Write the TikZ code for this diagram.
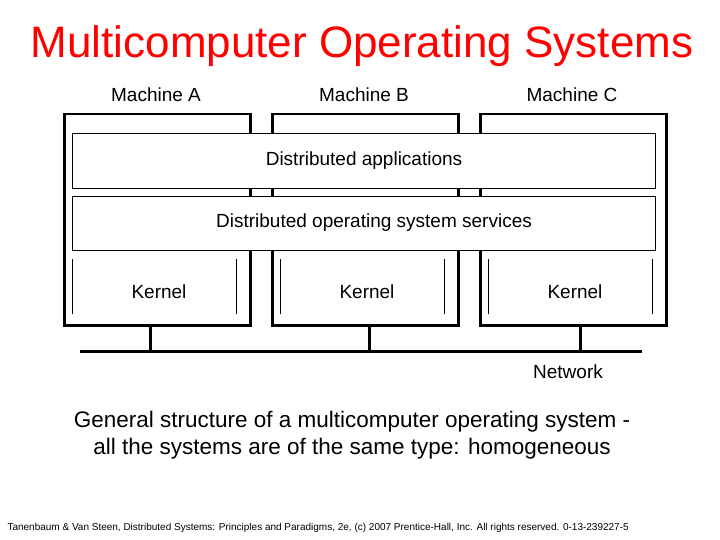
\documentclass[tikz,border=0pt]{standalone}
\usepackage{fontspec}
\setmainfont{Liberation Sans}
\begin{document}
\begin{tikzpicture}[x=1pt,y=-1pt,
  mach/.style={draw,line width=2.5pt,fill=white},
  layer/.style={draw,line width=0.8pt,fill=white},
  lbl/.style={font=\fontsize{19}{22}\selectfont},
  net/.style={line width=3pt}]
\useasboundingbox (0,0) rectangle (720,540);
\node[text=red,font=\fontsize{44}{50}\selectfont] (title) at (362,46) {Multicomputer Operating Systems};
\foreach \n/\x/\t in {A/63/A,B/271/B,C/479/C}{
  \node[mach,minimum width=186pt,minimum height=211pt,anchor=north west] (m\n) at (\x,113) {};
  \node[lbl] (l\n) at (\x+93,95) {Machine \t};
  \draw[line width=0.8pt] (\x+9,259) -- (\x+9,314) (\x+173,259) -- (\x+173,314);
  \node[lbl] (k\n) at (\x+96,292) {Kernel};
}
\node[layer,minimum width=583pt,minimum height=55pt,anchor=north west] (apps) at (72,133) {};
\node[lbl] (appst) at (364,161) {Distributed applications};
\node[layer,minimum width=583pt,minimum height=54pt,anchor=north west] (serv) at (72,196) {};
\node[lbl] (servt) at (374,223) {Distributed operating system services};
\coordinate (nl) at (80,351);
\coordinate (nr) at (642,351);
\draw[net] (nl) -- (nr);
\foreach \n/\x in {A/150,B/369,C/580}
  \draw[net] (m\n.south -| \x,0) -- (\x,351);
\node[lbl] (netl) at (568,372) {Network};
\node[font=\fontsize{22.5}{27}\selectfont,align=center] (cap) at (352,435) {General structure of a multicomputer operating system -\\all the systems are of the same type: homogeneous};
\node[font=\fontsize{10}{12}\selectfont,anchor=west] (foot) at (4,528) {Tanenbaum \& Van Steen, Distributed Systems: Principles and Paradigms, 2e, (c) 2007 Prentice-Hall, Inc. All rights reserved. 0-13-239227-5};
\end{tikzpicture}
\end{document}
